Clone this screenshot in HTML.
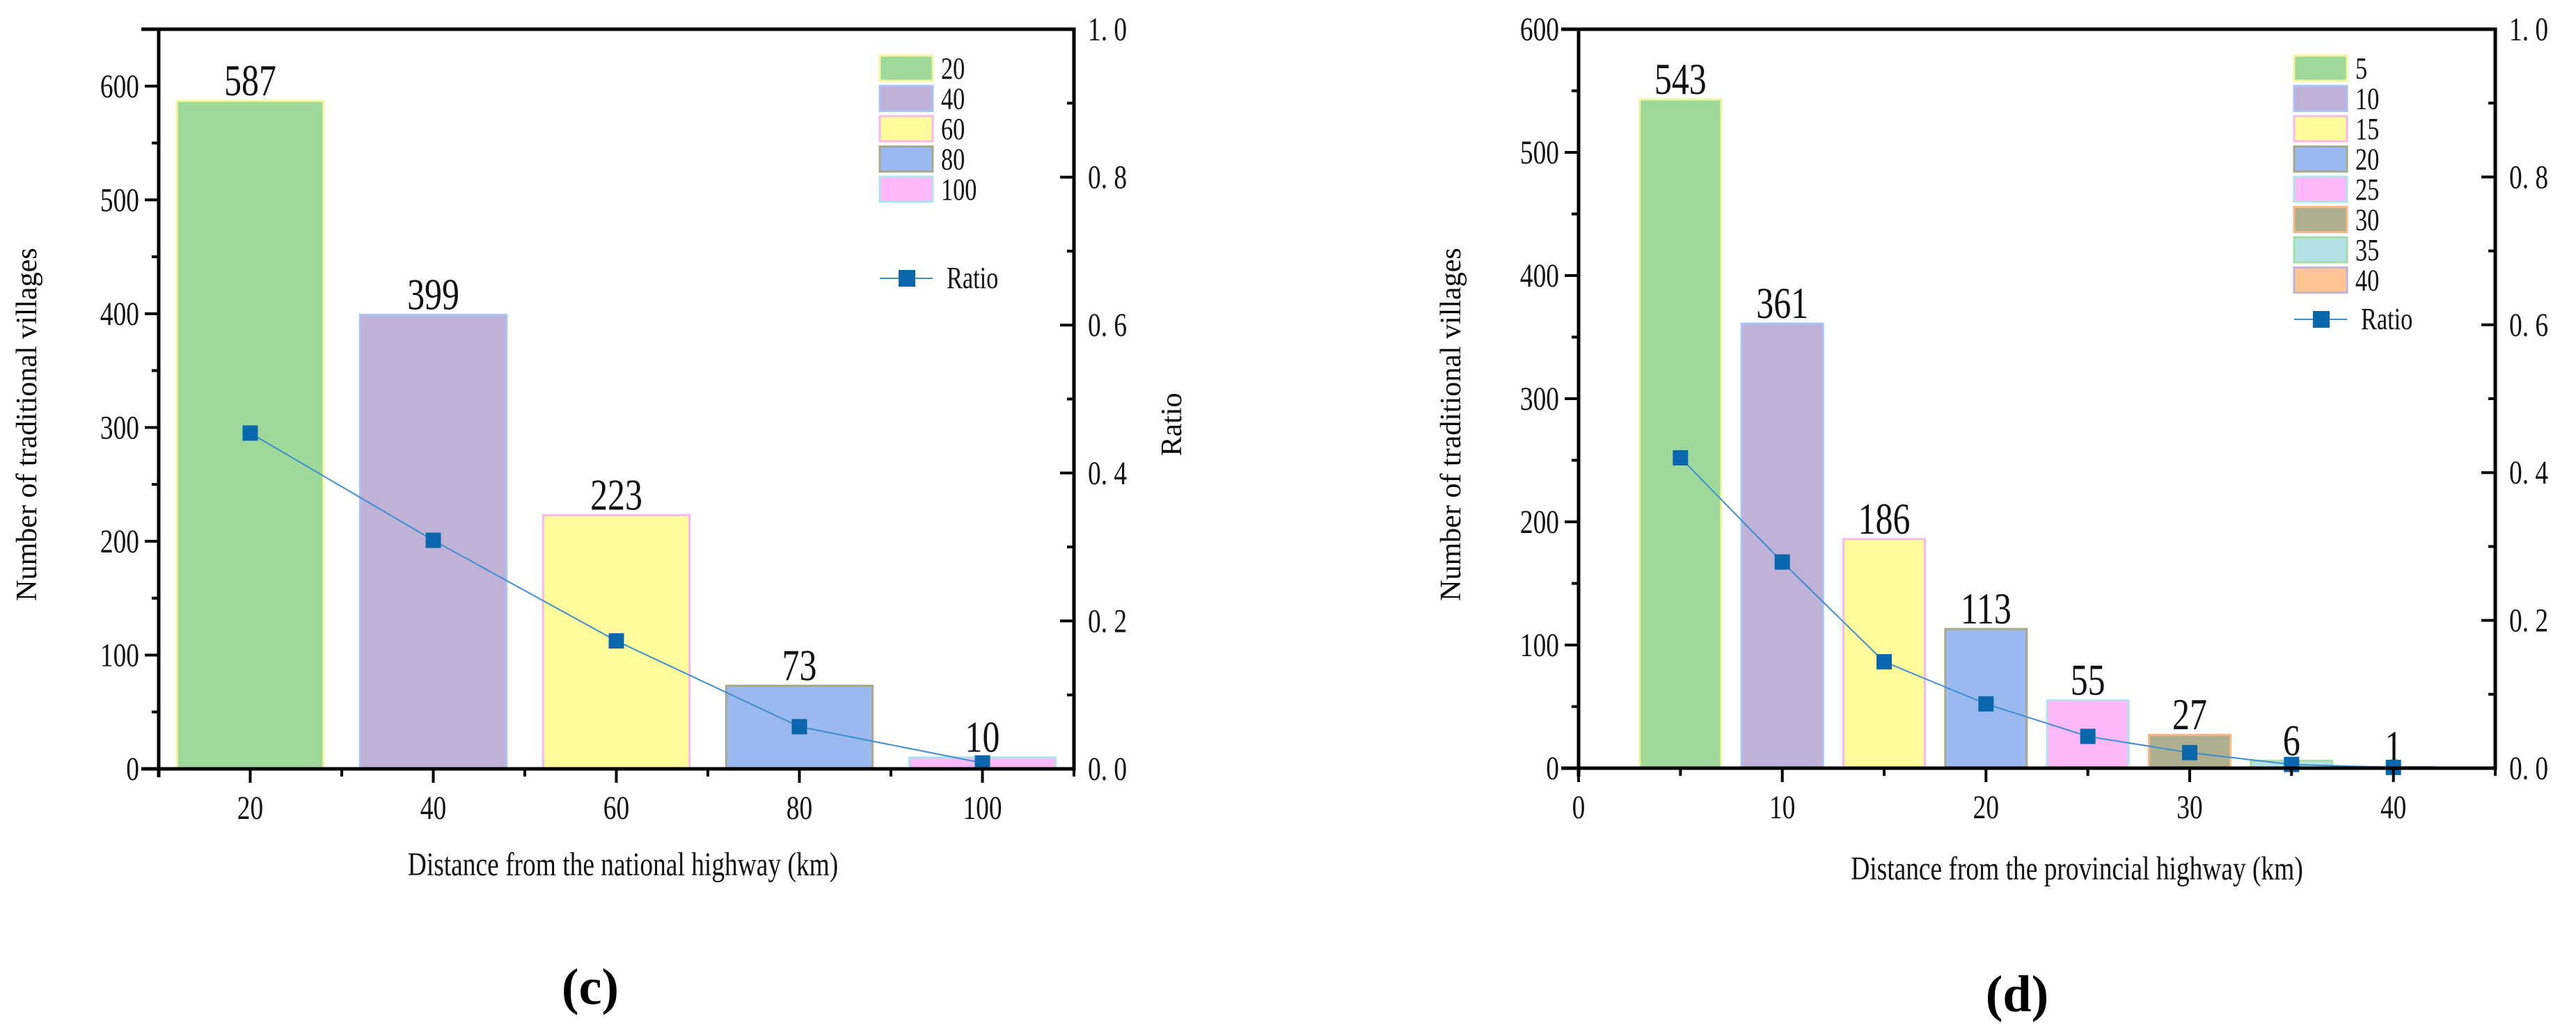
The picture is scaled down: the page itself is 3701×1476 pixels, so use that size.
<!DOCTYPE html>
<html><head><meta charset="utf-8"><style>
html,body{margin:0;padding:0;background:#fff;}
svg{display:block;font-family:"Liberation Serif","Noto Serif CJK SC",serif;}
</style></head><body>
<svg id="svg" width="3701" height="1476" viewBox="0 0 3701 1476" xmlns="http://www.w3.org/2000/svg">
<rect width="3701" height="1476" fill="#fff"/>
<text x="848" y="1443" font-size="74" font-weight="bold" text-anchor="middle">(c)</text>
<text x="2898" y="1453" font-size="74" font-weight="bold" text-anchor="middle">(d)</text>
</svg>
<script>
const catsC = [20, 40, 60, 80, 100];
const countsC = [587, 399, 223, 73, 10];
const ratioC = [0.454, 0.309, 0.173, 0.057, 0.008];
const catsD = [5, 10, 15, 20, 25, 30, 35, 40];
const countsD = [543, 361, 186, 113, 55, 27, 6, 1];
const ratioD = [0.42, 0.279, 0.144, 0.087, 0.043, 0.021, 0.005, 0.001];
const yTicksC = [0, 100, 200, 300, 400, 500, 600];
const yTicksD = [0, 100, 200, 300, 400, 500, 600];
const rTicks = ["0. 0", "0. 2", "0. 4", "0. 6", "0. 8", "1. 0"];
const xTicksC = [20, 40, 60, 80, 100];
const xTicksD = [0, 10, 20, 30, 40];

const fills = ["#9fd89b","#c0b1d6","#fffc9b","#9ab9ee","#fdb8f8","#aeaf8e","#b4e1e6","#fdc494"];
const strokes = ["#f3f59a","#a9c4f2","#fbb6f0","#a8a98a","#b0e3ee","#f7b889","#a8dca4","#c4b0dc"];
const svg = document.getElementById('svg');
const NS = "http://www.w3.org/2000/svg";
function mk(tag, attrs, parent, txt){
  const e = document.createElementNS(NS, tag);
  for (const k in attrs) e.setAttribute(k, attrs[k]);
  if (txt !== undefined) e.textContent = txt;
  (parent || svg).appendChild(e);
  return e;
}
function ntext(parent, x, y, size, str, anchor){
  return mk('text', {x: 0, y: 0, 'font-size': size, 'text-anchor': anchor, transform: `translate(${x},${y}) scale(0.78,1)`, fill: '#111'}, parent, str);
}

function chart(o){
  const g = mk('g', {});
  
  
  const X = v => o.L + (v - o.xmin) / (o.xmax - o.xmin) * (o.R - o.L);
  const Y = v => o.B - v / o.ymax * (o.B - o.T);
  const YR = v => o.B - v * (o.B - o.T);
  o.cats.forEach((c, i) => {
    const x0 = X(c - o.bw / 2), x1 = X(c + o.bw / 2);
    const b = mk('rect', {x: x0, y: Y(o.counts[i]), width: x1 - x0, height: o.B - Y(o.counts[i]), fill: fills[i], stroke: strokes[i], 'stroke-width': 3}, g);
    
    
    const t = ntext(g, X(c), Y(o.counts[i]) - 8, 64, String(o.counts[i]), 'middle');
    
    
  });
  const pts = o.cats.map((c, i) => X(c) + ',' + YR(o.ratio[i])).join(' ');
  const pl = mk('polyline', {points: pts, fill: 'none', stroke: '#3d8fd1', 'stroke-width': 2}, g);
  
  
  o.cats.forEach((c, i) => {
    const m = mk('rect', {x: X(c) - 11, y: YR(o.ratio[i]) - 11, width: 22, height: 22, fill: '#0a67ad'}, g);
    
    
  });
  const ax = mk('path', {d: `M${o.L - 25},${o.T} H${o.R} V${o.B} H${o.L - 25} M${o.L},${o.T} V${o.B + 12}`, fill: 'none', stroke: '#000', 'stroke-width': 5}, g);
  
  
  o.yTicks.forEach(v => {
    mk('line', {x1: o.L - 20, x2: o.L, y1: Y(v), y2: Y(v), stroke: '#000', 'stroke-width': 4}, g);
    const t = ntext(g, o.L - 28, Y(v) + 16, 48, String(v), 'end');
    
    
    const mv = v + o.ymin_step / 2;
    if (Y(mv) > o.T + 2) mk('line', {x1: o.L - 10, x2: o.L, y1: Y(mv), y2: Y(mv), stroke: '#000', 'stroke-width': 4}, g);
  });
  rTicks.forEach((s, i) => {
    const v = i * 0.2;
    mk('line', {x1: o.R - 20, x2: o.R, y1: YR(v), y2: YR(v), stroke: '#000', 'stroke-width': 4}, g);
    if (i < 5) mk('line', {x1: o.R - 10, x2: o.R, y1: YR(v + 0.1), y2: YR(v + 0.1), stroke: '#000', 'stroke-width': 4}, g);
    const t = ntext(g, o.R + 20, YR(v) + 16, 48, s, 'start');
    
    
  });
  o.xTicks.forEach(v => {
    mk('line', {x1: X(v), x2: X(v), y1: o.B, y2: o.B + 20, stroke: '#000', 'stroke-width': 4}, g);
    const t = ntext(g, X(v), o.B + 72, 48, String(v), 'middle');
    
    
  });
  o.xMinor.forEach(v => mk('line', {x1: X(v), x2: X(v), y1: o.B, y2: o.B + 11, stroke: '#000', 'stroke-width': 4}, g));
  const xt = ntext(g, o.xtX, o.xtY, 48, o.xTitle, 'middle');
  
  
  const yt = mk('text', {x: 0, y: 0, 'font-size': 42, 'text-anchor': 'middle', transform: `translate(${o.ytX},610) rotate(-90)`}, g, 'Number of traditional villages');
  
  
  if (o.showRatioTitle) {
    const rt = mk('text', {x: 0, y: 0, 'font-size': 42, 'text-anchor': 'middle', transform: `translate(${o.rtX},610) rotate(-90)`}, g, 'Ratio');
    
    
  }
  const lg = mk('g', {}, g);
  
  
  o.cats.forEach((c, i) => {
    const yy = 80 + i * 43.5;
    const s = mk('rect', {x: o.lgX, y: yy, width: 76, height: 36, fill: fills[i], stroke: strokes[i], 'stroke-width': 3}, lg);
    
    
    const t = ntext(lg, o.lgX + 88, yy + 33, 44, String(c), 'start');
    
    
  });
  mk('line', {x1: o.lgX, x2: o.lgX + 76, y1: o.lgRatioY, y2: o.lgRatioY, stroke: '#3d8fd1', 'stroke-width': 2}, lg);
  mk('rect', {x: o.lgX + 27, y: o.lgRatioY - 12, width: 24, height: 24, fill: '#0a67ad'}, lg);
  const rl = ntext(lg, o.lgX + 96, o.lgRatioY + 14, 44, 'Ratio', 'start');
  
  
}

chart({name: 'chart-national-highway', L: 228, R: 1543, T: 42, B: 1105, xmin: 10, xmax: 110, ymax: 650, ymin_step: 100, bw: 16,
  cats: catsC, counts: countsC, ratio: ratioC, yTicks: yTicksC, xTicks: xTicksC, xMinor: [10, 30, 50, 70, 90, 110],
  xTitle: 'Distance from the national highway (km)', xtX: 895, xtY: 1258, ytX: 52, showRatioTitle: true, rtX: 1697,
  lgX: 1264, lgRatioY: 400});
chart({name: 'chart-provincial-highway', L: 2268, R: 3585, T: 42, B: 1104, xmin: 0, xmax: 45, ymax: 600, ymin_step: 100, bw: 4,
  cats: catsD, counts: countsD, ratio: ratioD, yTicks: yTicksD, xTicks: xTicksD, xMinor: [5, 15, 25, 35, 45],
  xTitle: 'Distance from the provincial highway (km)', xtX: 2984, xtY: 1264, ytX: 2098, showRatioTitle: false,
  lgX: 3296, lgRatioY: 459});
</script>
</body></html>
